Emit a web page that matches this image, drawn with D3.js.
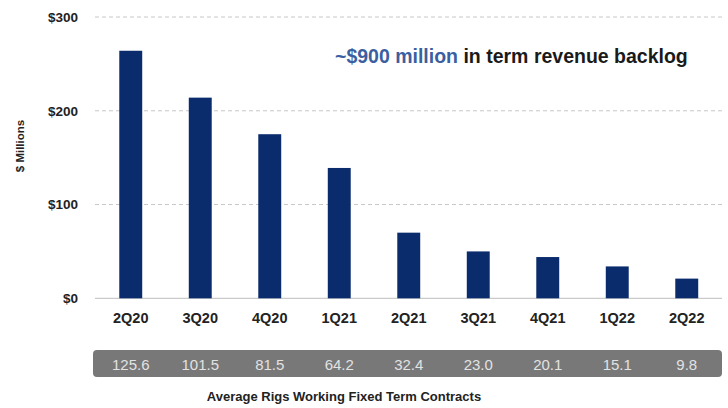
<!DOCTYPE html>
<html>
<head>
<meta charset="utf-8">
<script src="https://cdn.jsdelivr.net/npm/d3@7"></script>
<style>
  html, body { margin: 0; padding: 0; background: #fff; }
  svg { display: block; }
</style>
</head>
<body>
<svg id="chart" width="728" height="408"></svg>
<script>
// Term revenue backlog by quarter ($ millions)
const quarters = ["2Q20", "3Q20", "4Q20", "1Q21", "2Q21", "3Q21", "4Q21", "1Q22", "2Q22"];
const backlog = [264, 214, 175, 139, 70, 50, 44, 34, 21];
// Average rigs working fixed-term contracts per quarter
const rigs = ["125.6", "101.5", "81.5", "64.2", "32.4", "23.0", "20.1", "15.1", "9.8"];
const yTicks = [0, 100, 200, 300];

const svg = d3.select("#chart");
const plot = { left: 96, right: 721.5, top: 17, bottom: 298.3 };

const x = d3.scaleBand().domain(quarters).range([plot.left, plot.right]).paddingInner(0.67).paddingOuter(0.335);
const y = d3.scaleLinear().domain([0, 300]).range([plot.bottom, plot.top]);

const sans = "'Liberation Sans', Arial, Helvetica, sans-serif";

// Gridlines
svg.append("g").selectAll("line")
  .data(yTicks.filter(d => d > 0))
  .join("line")
  .attr("x1", 95).attr("x2", 722)
  .attr("y1", d => y(d)).attr("y2", d => y(d))
  .attr("stroke", "#c8c8c8").attr("stroke-width", 1)
  .attr("stroke-dasharray", "4,3");

// Baseline
svg.append("line")
  .attr("x1", 95).attr("x2", 722)
  .attr("y1", y(0)).attr("y2", y(0))
  .attr("stroke", "#bdbdbd").attr("stroke-width", 1);

// Y axis labels
const yAxis = d3.axisLeft(y).tickValues(yTicks).tickFormat(d => "$" + d).tickSize(0).tickPadding(0);
const ya = svg.append("g").attr("transform", "translate(78,0)").call(yAxis);
ya.select(".domain").remove();
ya.selectAll("text")
  .attr("font-family", sans).attr("font-weight", "bold")
  .attr("font-size", 13.5).attr("fill", "#222");

// Bars
svg.append("g").selectAll("rect")
  .data(quarters.map((q, i) => ({ q, v: backlog[i] })))
  .join("rect")
  .attr("x", d => x(d.q))
  .attr("width", x.bandwidth())
  .attr("y", d => y(d.v))
  .attr("height", d => y(0) - y(d.v))
  .attr("fill", "#0b2c6c");

// Category labels
const xAxis = d3.axisBottom(x).tickSize(0).tickPadding(0);
const xa = svg.append("g").attr("transform", "translate(0,322.5)").call(xAxis);
xa.select(".domain").remove();
xa.selectAll("text")
  .attr("dy", 0)
  .attr("font-family", sans).attr("font-weight", "bold")
  .attr("font-size", 14.5).attr("fill", "#222");

// Rig count band
svg.append("rect")
  .attr("x", 93).attr("y", 350).attr("width", 629).attr("height", 27)
  .attr("rx", 4).attr("fill", "#787878");

svg.append("g").selectAll("text")
  .data(quarters.map((q, i) => ({ q, r: rigs[i] })))
  .join("text")
  .attr("x", d => x(d.q) + x.bandwidth() / 2)
  .attr("y", 370)
  .attr("text-anchor", "middle")
  .attr("font-family", sans).attr("font-size", 15)
  .attr("fill", "#e2e2e2")
  .text(d => d.r);

// Band caption
svg.append("text")
  .attr("x", 344).attr("y", 401)
  .attr("text-anchor", "middle")
  .attr("font-family", sans).attr("font-weight", "bold")
  .attr("font-size", 13).attr("fill", "#222")
  .text("Average Rigs Working Fixed Term Contracts");

// Y axis title
svg.append("text")
  .attr("transform", "translate(24,146) rotate(-90)")
  .attr("text-anchor", "middle")
  .attr("font-family", sans).attr("font-weight", "bold")
  .attr("font-size", 11.5).attr("fill", "#222")
  .text("$ Millions");

// Headline
const head = svg.append("text")
  .attr("x", 335).attr("y", 63)
  .attr("font-family", sans).attr("font-weight", "bold")
  .attr("font-size", 19.5);
head.append("tspan").attr("fill", "#3b5fa0").text("~$900 million");
head.append("tspan").attr("fill", "#1a1a1a").text(" in term revenue backlog");
</script>
</body>
</html>
